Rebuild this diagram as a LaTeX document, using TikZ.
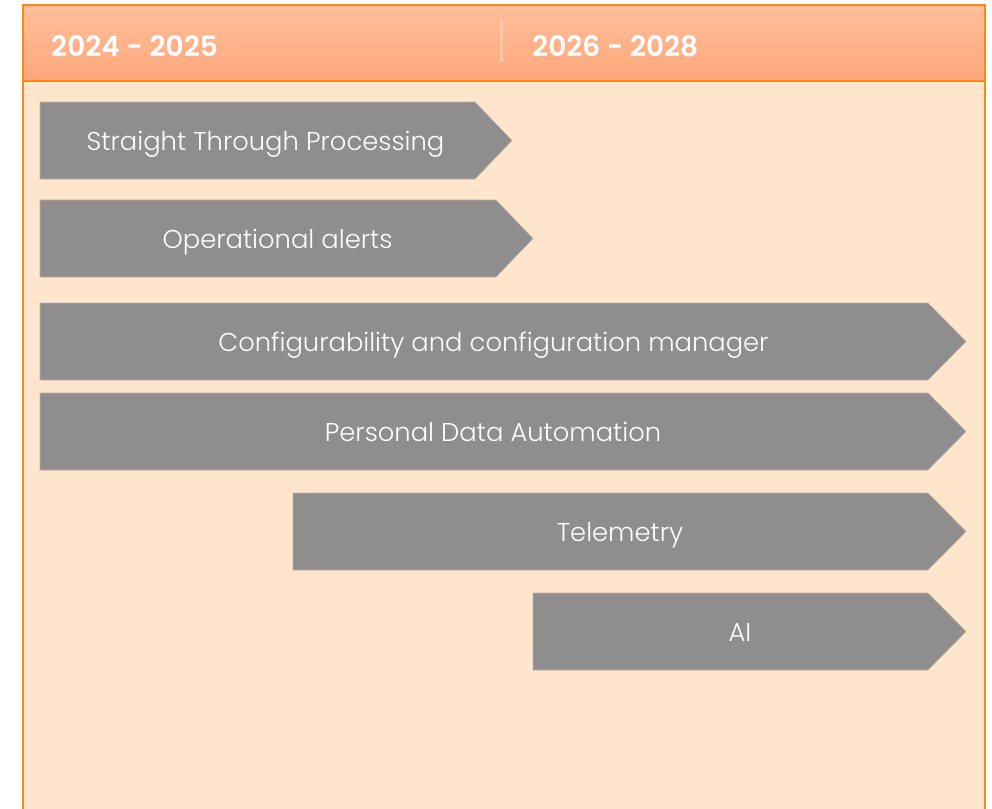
\documentclass[tikz,border=0pt]{standalone}
\usepackage{fontspec}
\setmainfont{Poppins}
\IfFontExistsTF{Poppins Light}{\newfontfamily\lightfont{Poppins Light}}{\newfontfamily\lightfont{Poppins}}
\newfontfamily\boldfont{Poppins}[UprightFont=* SemiBold]
\definecolor{hdrtop}{HTML}{FFBE9A}
\definecolor{hdrbot}{HTML}{FFA77A}
\definecolor{frameorange}{HTML}{FF8612}
\definecolor{bodyfill}{HTML}{FFE5CC}
\definecolor{greyfill}{HTML}{8F8D8E}
\definecolor{greyedge}{HTML}{BDB0A8}
\definecolor{divider}{HTML}{FFCAAC}
\begin{document}
\begin{tikzpicture}[x=1pt,y=-1pt,
  bar/.style={fill=greyfill,draw=greyedge,line width=0.6pt},
  bartext/.style={text=white,font=\lightfont\fontsize{25.8}{28}\selectfont,inner sep=0pt,anchor=base},
  hdrtext/.style={text=white,font=\boldfont\fontsize{28}{32}\selectfont,inner sep=0pt,anchor=base west}]
\useasboundingbox (0,0) rectangle (992,808);
\clip (0,0) rectangle (992,808);
% frame
\fill[bodyfill] (22.5,5.5) rectangle (984.5,815);
\shade[top color=hdrtop,bottom color=hdrbot] (22.5,5.5) rectangle (984.5,81);
\draw[frameorange,line width=2pt] (22.5,815) -- (22.5,5.5) -- (984.5,5.5) -- (984.5,815);
\draw[frameorange,line width=1.6pt] (22.5,81) -- (984.5,81);
\draw[divider,line width=3pt] (501,20) -- (501,62);
\node[hdrtext] (h1) at (51,56.5) {2024 - 2025};
\node[hdrtext] (h2) at (532,56.5) {2026 - 2028};
% bars
\draw[bar] (40,102) -- (475,102) -- (512,140.5) -- (475,179) -- (40,179) -- cycle;
\node[bartext] (b1) at (265.5,150.5) {Straight Through Processing};
\draw[bar] (40,200) -- (496,200) -- (533,238.5) -- (496,277) -- (40,277) -- cycle;
\node[bartext] (b2) at (277.5,248.5) {Operational alerts};
\draw[bar] (40,303) -- (928,303) -- (966,341.5) -- (928,380) -- (40,380) -- cycle;
\node[bartext] (b3) at (493.5,351.5) {Configurability and configuration manager};
\draw[bar] (40,393) -- (928,393) -- (966,431.5) -- (928,470) -- (40,470) -- cycle;
\node[bartext] (b4) at (493,441.5) {Personal Data Automation};
\draw[bar] (293,493) -- (928,493) -- (966,531.5) -- (928,570) -- (293,570) -- cycle;
\node[bartext] (b5) at (620,541.5) {Telemetry};
\draw[bar] (533,593) -- (928,593) -- (966,631.5) -- (928,670) -- (533,670) -- cycle;
\node[bartext] (b6) at (740,641.5) {AI};
\end{tikzpicture}
\end{document}
